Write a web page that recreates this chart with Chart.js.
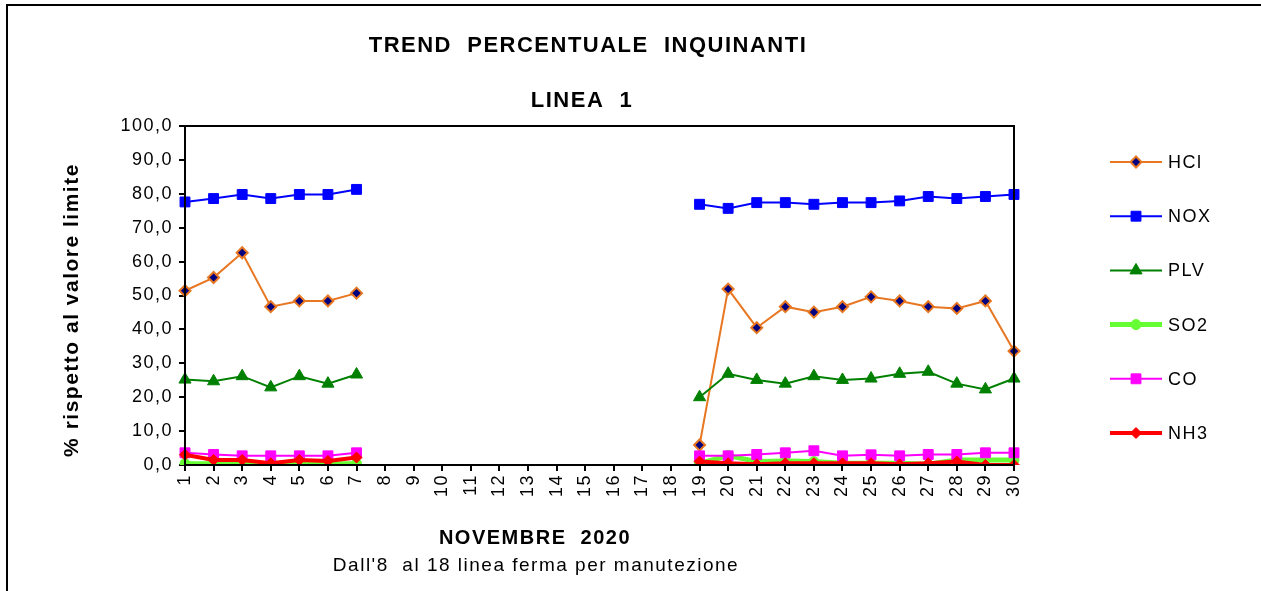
<!DOCTYPE html>
<html>
<head>
<meta charset="utf-8">
<script src="https://cdn.jsdelivr.net/npm/chart.js@4/dist/chart.umd.min.js"></script>
<style>
  html, body { margin: 0; padding: 0; background: #fff; }
  #wrap { width: 1261px; height: 591px; position: relative; }
</style>
</head>
<body>
<div id="wrap"><canvas id="myChart"></canvas></div>
<script>
// giorni di novembre
const days = ['1','2','3','4','5','6','7','8','9','10','11','12','13','14','15',
  '16','17','18','19','20','21','22','23','24','25','26','27','28','29','30'];

// % rispetto al valore limite (dall'8 al 18 linea ferma -> null)
const hcl = [51.4, 55.3, 62.6, 46.7, 48.4, 48.4, 50.7,
  null, null, null, null, null, null, null, null, null, null, null,
  5.9, 51.9, 40.5, 46.7, 45.1, 46.7, 49.6, 48.4, 46.7, 46.2, 48.4, 33.6];
const nox = [77.6, 78.6, 79.8, 78.6, 79.8, 79.8, 81.3,
  null, null, null, null, null, null, null, null, null, null, null,
  76.9, 75.7, 77.4, 77.4, 76.9, 77.4, 77.4, 77.9, 79.2, 78.6, 79.2, 79.8];
const plv = [25.2, 24.7, 26.2, 22.9, 26.2, 24.0, 26.7,
  null, null, null, null, null, null, null, null, null, null, null,
  20.0, 26.9, 25.1, 24.0, 26.2, 25.1, 25.5, 26.9, 27.5, 24.0, 22.3, 25.5];
const so2 = [0.4, 0.4, 0.4, 0.4, 0.4, 0.4, 0.4,
  null, null, null, null, null, null, null, null, null, null, null,
  0.5, 2.8, 1.0, 1.2, 1.0, 0.5, 0.5, 0.5, 0.2, 1.5, 1.5, 1.5];
const co = [3.6, 3.1, 2.7, 2.7, 2.7, 2.7, 3.6,
  null, null, null, null, null, null, null, null, null, null, null,
  2.7, 2.7, 3.1, 3.6, 4.2, 2.7, 3.0, 2.7, 3.1, 3.1, 3.6, 3.6];
const nh3 = [3.0, 1.5, 1.5, 0.5, 1.5, 1.2, 2.2,
  null, null, null, null, null, null, null, null, null, null, null,
  1.0, 0.5, 0.2, 0.5, 0.5, 0.5, 0.5, 0.2, 0.5, 1.0, 0.0, 0.0];

const yTicks = [0, 10, 20, 30, 40, 50, 60, 70, 80, 90, 100];

const FONT = "'Liberation Sans', Arial, sans-serif";

// testi, cornice e legenda disegnati a mano (stile Excel)
const excelDecor = {
  id: 'excelDecor',
  beforeDraw(chart) {
    chart.ctx.letterSpacing = '1.5px';
  },
  afterDraw(chart) {
    const ctx = chart.ctx;
    const a = chart.chartArea;
    ctx.save();
    ctx.letterSpacing = '1.5px';
    ctx.fillStyle = '#000';
    ctx.strokeStyle = '#000';

    // cornice esterna
    ctx.lineWidth = 2;
    ctx.strokeRect(7, 5, 1400, 800);
    // bordo area grafico
    ctx.strokeRect(a.left, a.top, a.right - a.left, a.bottom - a.top);

    ctx.textAlign = 'center';
    ctx.textBaseline = 'middle';
    ctx.font = 'bold 22px ' + FONT;
    ctx.fillText('TREND  PERCENTUALE  INQUINANTI', 588, 46);
    ctx.fillText('LINEA  1', 582, 101);

    ctx.font = 'bold 20px ' + FONT;
    ctx.fillText('NOVEMBRE  2020', 535, 538);
    ctx.font = '19px ' + FONT;
    ctx.fillText("Dall'8  al 18 linea ferma per manutezione", 536, 566);

    ctx.save();
    ctx.translate(72, 310);
    ctx.rotate(-Math.PI / 2);
    ctx.font = 'bold 21px ' + FONT;
    ctx.fillText('% rispetto al valore limite', 0, 0);
    ctx.restore();

    // legenda
    ctx.textAlign = 'left';
    ctx.font = '18px ' + FONT;
    chart.data.datasets.forEach((ds, i) => {
      const y = 162 + i * 54.2;
      ctx.beginPath();
      ctx.strokeStyle = ds.borderColor;
      ctx.lineWidth = ds.borderWidth;
      ctx.moveTo(1110, y);
      ctx.lineTo(1162, y);
      ctx.stroke();
      ctx.fillStyle = ds.pointBackgroundColor;
      ctx.strokeStyle = ds.pointBorderColor;
      ctx.lineWidth = ds.pointBorderWidth;
      Chart.helpers.drawPoint(ctx, {
        pointStyle: ds.pointStyle,
        radius: ds.pointRadius,
        rotation: 0,
        borderWidth: ds.pointBorderWidth
      }, 1136, y);
      ctx.fillStyle = '#000';
      ctx.fillText(ds.label, 1168, y + 1);
    });
    ctx.restore();
    ctx.letterSpacing = '0px';
  }
};

const dataLine = {
  labels: days,
  datasets: [
    { label: 'HCl', data: hcl, borderColor: '#E87722', borderWidth: 2,
      pointStyle: 'rectRot', pointRadius: 5.5, pointBackgroundColor: '#000080',
      pointBorderColor: '#E87722', pointBorderWidth: 2, order: 6 },
    { label: 'NOX', data: nox, borderColor: '#0000FF', borderWidth: 2,
      pointStyle: 'rect', pointRadius: 7, pointBackgroundColor: '#0000FF',
      pointBorderColor: '#0000FF', pointBorderWidth: 1, order: 5 },
    { label: 'PLV', data: plv, borderColor: '#008000', borderWidth: 2,
      pointStyle: 'triangle', pointRadius: 7, pointBackgroundColor: '#008000',
      pointBorderColor: '#008000', pointBorderWidth: 1, order: 4 },
    { label: 'SO2', data: so2, borderColor: '#66FF33', borderWidth: 5,
      pointStyle: 'circle', pointRadius: 5, pointBackgroundColor: '#66FF33',
      pointBorderColor: '#66FF33', pointBorderWidth: 1, order: 3 },
    { label: 'CO', data: co, borderColor: '#FF00FF', borderWidth: 2,
      pointStyle: 'rect', pointRadius: 7, pointBackgroundColor: '#FF00FF',
      pointBorderColor: '#FF00FF', pointBorderWidth: 1, order: 2 },
    { label: 'NH3', data: nh3, borderColor: '#FF0000', borderWidth: 4,
      pointStyle: 'rectRot', pointRadius: 5.5, pointBackgroundColor: '#FF0000',
      pointBorderColor: '#FF0000', pointBorderWidth: 1, order: 1 }
  ]
};

const configLine = {
  type: 'line',
  data: dataLine,
  options: {
    responsive: true,
    maintainAspectRatio: false,
    animation: false,
    spanGaps: false,
    layout: { padding: { left: 0, top: 126, right: 247, bottom: 0 } },
    plugins: {
      legend: { display: false },
      title: { display: false },
      tooltip: { enabled: false }
    },
    scales: {
      x: {
        offset: false,
        grid: { display: true, drawOnChartArea: false, color: '#000', tickLength: 6, lineWidth: 2 },
        border: { display: true, color: '#000', width: 2 },
        ticks: {
          color: '#000', minRotation: 90, maxRotation: 90, autoSkip: false, padding: 3,
          font: { family: FONT, size: 18 }
        },
        afterFit(scale) { scale.height = 126; }
      },
      y: {
        min: 0,
        max: 100,
        afterBuildTicks(scale) { scale.ticks = yTicks.map(v => ({ value: v })); },
        grid: { display: true, drawOnChartArea: false, color: '#000', tickLength: 6, lineWidth: 2 },
        border: { display: true, color: '#000', width: 2 },
        ticks: {
          color: '#000', padding: 6,
          font: { family: FONT, size: 18 },
          callback: v => v.toFixed(1).replace('.', ',')
        },
        afterFit(scale) { scale.width = 185; }
      }
    }
  },
  plugins: [excelDecor]
};

var myChartLine = new Chart(document.getElementById('myChart'), configLine);
</script>
</body>
</html>
